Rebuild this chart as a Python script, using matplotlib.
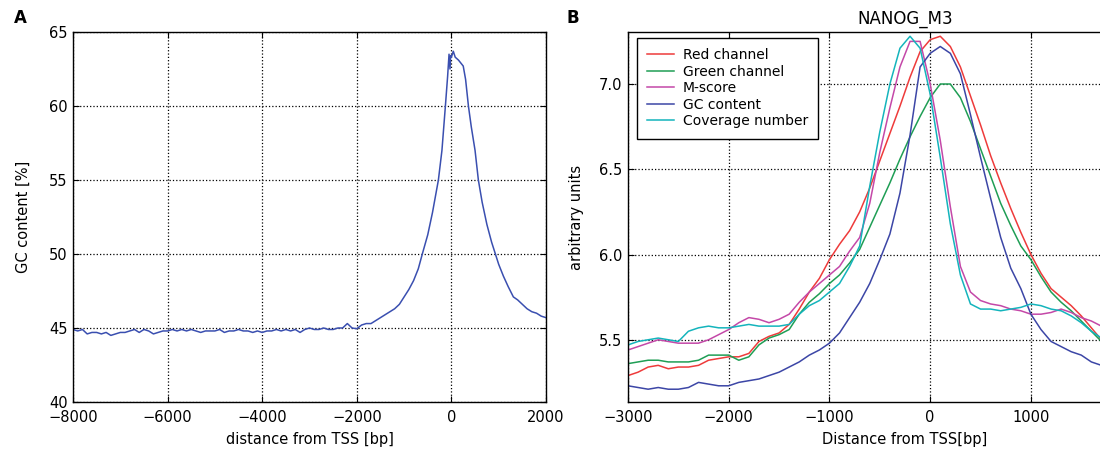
import numpy as np
import matplotlib
matplotlib.use('Agg')
import matplotlib.pyplot as plt

# panel A: GC content around TSS
gc_x = [-8000, -7900, -7800, -7700, -7600, -7500, -7400, -7300, -7200, -7100,
        -7000, -6900, -6800, -6700, -6600, -6500, -6400, -6300, -6200, -6100,
        -6000, -5900, -5800, -5700, -5600, -5500, -5400, -5300, -5200, -5100,
        -5000, -4900, -4800, -4700, -4600, -4500, -4400, -4300, -4200, -4100,
        -4000, -3900, -3800, -3700, -3600, -3500, -3400, -3300, -3200, -3100,
        -3000, -2900, -2800, -2700, -2600, -2500, -2400, -2300, -2200, -2100,
        -2000, -1900, -1800, -1700, -1600, -1500, -1400, -1300, -1200, -1100,
        -1000, -900, -800, -700, -615, -500, -400, -275, -200, -127,
        -80, -50, -30, -15, 0, 40, 80, 150, 250, 300,
        360, 420, 500, 570, 650, 750, 850, 930, 1000, 1100,
        1200, 1310, 1400, 1500, 1600, 1700, 1800, 1900, 2000]
gc_y = [44.9, 44.8, 44.9, 44.6, 44.7, 44.7, 44.6, 44.7, 44.5, 44.6,
        44.7, 44.7, 44.8, 44.9, 44.7, 44.9, 44.8, 44.6, 44.7, 44.8,
        44.8, 44.9, 44.8, 44.9, 44.8, 44.9, 44.8, 44.7, 44.8, 44.8,
        44.8, 44.9, 44.7, 44.8, 44.8, 44.9, 44.8, 44.8, 44.7, 44.8,
        44.7, 44.8, 44.8, 44.9, 44.8, 44.9, 44.8, 44.9, 44.7, 44.9,
        45.0, 44.9, 44.9, 45.0, 44.9, 44.9, 45.0, 45.0, 45.3, 45.0,
        44.95, 45.2, 45.3, 45.3, 45.5, 45.7, 45.9, 46.1, 46.3, 46.6,
        47.1, 47.6, 48.2, 49.0, 50.0, 51.3, 52.8, 55.0, 57.0, 60.0,
        62.0, 63.5, 62.5, 63.4, 63.3, 63.7, 63.3, 63.1, 62.7, 61.8,
        60.0, 58.6, 57.0, 55.0, 53.5, 52.0, 50.8, 50.0, 49.3, 48.5,
        47.8, 47.1, 46.9, 46.6, 46.3, 46.1, 46.0, 45.8, 45.7]

# panel B: NANOG_M3 profiles
dist = np.arange(-3000, 1800, 100)
red = [5.29, 5.31, 5.34, 5.35, 5.33, 5.34, 5.34, 5.35, 5.38, 5.39,
       5.40, 5.40, 5.42, 5.49, 5.52, 5.54, 5.59, 5.68, 5.78, 5.86,
       5.97, 6.06, 6.14, 6.25, 6.39, 6.55, 6.71, 6.87, 7.04, 7.19,
       7.26, 7.28, 7.22, 7.10, 6.93, 6.76, 6.58, 6.42, 6.27, 6.13,
       6.00, 5.89, 5.80, 5.75, 5.70, 5.64, 5.57, 5.50]
green = [5.36, 5.37, 5.38, 5.38, 5.37, 5.37, 5.37, 5.38, 5.41, 5.41,
         5.41, 5.38, 5.40, 5.47, 5.51, 5.53, 5.56, 5.65, 5.72, 5.77,
         5.83, 5.88, 5.95, 6.03, 6.16, 6.29, 6.42, 6.56, 6.69, 6.81,
         6.92, 7.00, 7.00, 6.92, 6.78, 6.62, 6.46, 6.30, 6.17, 6.05,
         5.97, 5.87, 5.78, 5.72, 5.67, 5.61, 5.55, 5.49]
mscore = [5.44, 5.46, 5.48, 5.50, 5.49, 5.48, 5.48, 5.48, 5.50, 5.53,
          5.56, 5.60, 5.63, 5.62, 5.60, 5.62, 5.65, 5.72, 5.78, 5.83,
          5.88, 5.93, 6.02, 6.10, 6.30, 6.60, 6.86, 7.10, 7.25, 7.25,
          7.00, 6.67, 6.28, 5.93, 5.78, 5.73, 5.71, 5.70, 5.68, 5.67,
          5.65, 5.65, 5.66, 5.68, 5.66, 5.63, 5.61, 5.58]
gc_content = [5.23, 5.22, 5.21, 5.22, 5.21, 5.21, 5.22, 5.25, 5.24, 5.23,
              5.23, 5.25, 5.26, 5.27, 5.29, 5.31, 5.34, 5.37, 5.41, 5.44,
              5.48, 5.54, 5.63, 5.72, 5.83, 5.97, 6.12, 6.36, 6.70, 7.10,
              7.18, 7.22, 7.18, 7.06, 6.82, 6.57, 6.33, 6.10, 5.92, 5.80,
              5.65, 5.56, 5.49, 5.46, 5.43, 5.41, 5.37, 5.35]
coverage = [5.47, 5.49, 5.50, 5.51, 5.50, 5.49, 5.55, 5.57, 5.58, 5.57,
            5.57, 5.58, 5.59, 5.58, 5.58, 5.58, 5.59, 5.65, 5.70, 5.73,
            5.78, 5.83, 5.93, 6.05, 6.40, 6.72, 7.00, 7.21, 7.28, 7.21,
            6.94, 6.57, 6.18, 5.88, 5.71, 5.68, 5.68, 5.67, 5.68, 5.69,
            5.71, 5.70, 5.68, 5.67, 5.64, 5.60, 5.55, 5.51]
labels_b = ['Red channel', 'Green channel', 'M-score', 'GC content', 'Coverage number']
cols_b = ['#ee3b3b', '#1f9e55', '#c448a8', '#3c46a6', '#14b4bc']

plt.rcParams['font.family'] = 'DejaVu Sans'
fig = plt.figure(figsize=(11, 4.49), dpi=100)

def style(ax):
    ax.grid(True, linestyle=':', color='k', linewidth=0.9)
    ax.tick_params(direction='in', top=True, right=True, labelsize=10.5,
                   length=4)
    ax.tick_params(axis='x', pad=6)
    ax.tick_params(axis='y', pad=4)
    for s in ax.spines.values():
        s.set_linewidth(1.0)

axA = fig.add_axes([73/1100, 47/449, 473/1100, 370/449])
axA.plot(gc_x, gc_y, color='#3a4fb0', linewidth=1.1)
axA.set_xlim(-8000, 2000)
axA.set_ylim(40, 65)
axA.set_xticks([-8000, -6000, -4000, -2000, 0, 2000])
axA.set_yticks([40, 45, 50, 55, 60, 65])
axA.set_xlabel('distance from TSS [bp]', fontsize=10.5, labelpad=5)
axA.set_ylabel('GC content [%]', fontsize=10.5, labelpad=13)
style(axA)

axB = fig.add_axes([628/1100, 47/449, 554/1100, 370/449])
for vals, lab, c in zip([red, green, mscore, gc_content, coverage], labels_b, cols_b):
    axB.plot(dist, vals, color=c, linewidth=1.1, label=lab)
axB.set_xlim(-3000, 2500)
axB.set_ylim(5.135, 7.305)
axB.set_xticks([-3000, -2000, -1000, 0, 1000])
axB.set_yticks([5.5, 6.0, 6.5, 7.0])
axB.set_xlabel('Distance from TSS[bp]', fontsize=10.5, labelpad=5)
axB.set_ylabel('arbitrary units', fontsize=10.5, labelpad=11)
axB.set_title('NANOG_M3', fontsize=12, pad=6)
style(axB)
leg = axB.legend(loc='upper left', bbox_to_anchor=(0.016, 0.984), fontsize=10,
                 fancybox=False, framealpha=1, edgecolor='k', labelspacing=0.18,
                 handlelength=1.9, handletextpad=0.65, borderpad=0.75,
                 borderaxespad=0)
leg.get_frame().set_linewidth(1.0)

fig.text(14/1100, 1 - 18/449, 'A', fontsize=12, fontweight='bold', va='center')
fig.text(567/1100, 1 - 18/449, 'B', fontsize=12, fontweight='bold', va='center')

fig.savefig('out.png', dpi=100)
